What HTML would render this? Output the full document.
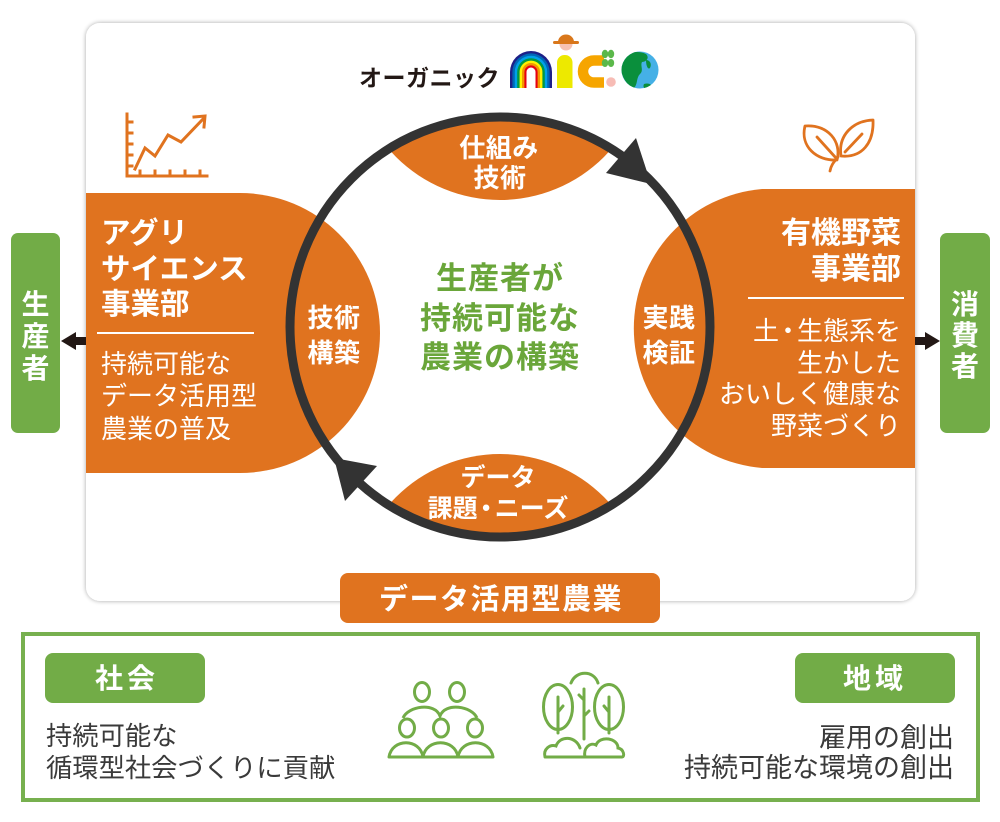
<!DOCTYPE html>
<html><head><meta charset="utf-8">
<style>
html,body{margin:0;padding:0;background:#fff;}
svg{display:block;}
text{font-family:"Liberation Sans","Noto Sans CJK JP",sans-serif;}
.b{font-weight:700;}
</style></head>
<body>
<svg width="1000" height="822" viewBox="0 0 1000 822" xmlns="http://www.w3.org/2000/svg">
<defs>
  <filter id="sh" x="-5%" y="-5%" width="110%" height="110%">
    <feGaussianBlur in="SourceAlpha" stdDeviation="2.5"/>
    <feOffset dx="0" dy="0" result="b"/>
    <feComponentTransfer><feFuncA type="linear" slope="0.35"/></feComponentTransfer>
    <feMerge><feMergeNode/><feMergeNode in="SourceGraphic"/></feMerge>
  </filter>
  <clipPath id="ring"><circle cx="500" cy="327" r="210"/></clipPath>
  <clipPath id="globe"><circle cx="640" cy="70" r="18.5"/></clipPath>
</defs>

<!-- main card -->
<rect x="86" y="23" width="829" height="578" rx="14" fill="#fff" filter="url(#sh)"/>

<!-- logo -->
<text x="359" y="86" class="b" font-size="23" fill="#231815" letter-spacing="0.5">オーガニック</text>
<g>
  <path d="M510,88 V72 A21,21 0 0 1 552,72 V88 Z" fill="#1d2088"/>
  <path d="M512.4,88 V72 A18.6,18.6 0 0 1 549.6,72 V88 Z" fill="#0068b7"/>
  <path d="M514.8,88 V72 A16.2,16.2 0 0 1 547.2,72 V88 Z" fill="#00a0e9"/>
  <path d="M517.2,88 V72 A13.8,13.8 0 0 1 544.8,72 V88 Z" fill="#009944"/>
  <path d="M519.6,88 V72 A11.4,11.4 0 0 1 542.4,72 V88 Z" fill="#fff100"/>
  <path d="M522,88 V72 A9,9 0 0 1 540,72 V88 Z" fill="#f39800"/>
  <path d="M524.4,88 V72 A6.6,6.6 0 0 1 537.6,72 V88 Z" fill="#e60012"/>
  <path d="M526.5,88 V72 A4.5,4.5 0 0 1 535.5,72 V88 Z" fill="#fff"/>
  <!-- i -->
  <rect x="557" y="55" width="15.5" height="33" rx="7.5" fill="#ede900"/>
  <rect x="557" y="70" width="15.5" height="18" fill="#ede900"/>
  <circle cx="566" cy="44" r="6.5" fill="#f7c1b2"/>
  <path d="M558,42 A8,7.5 0 0 1 574,42 Z" fill="#d9771b"/>
  <rect x="553" y="41" width="26" height="3" rx="1.5" fill="#d9771b"/>
  <!-- c -->
  <path d="M604,60.5 H594 A11,11 0 0 0 594,82.5 H604" fill="none" stroke="#f6a500" stroke-width="10.5"/>
  <ellipse cx="605" cy="54" rx="3.2" ry="4.2" fill="#5bb84a"/>
  <ellipse cx="611" cy="54" rx="3.2" ry="4.2" fill="#5bb84a"/>
  <ellipse cx="605" cy="63" rx="3.2" ry="4" fill="#5bb84a"/>
  <ellipse cx="611" cy="63" rx="3.2" ry="4" fill="#5bb84a"/>
  <circle cx="611" cy="82" r="4.8" fill="#f7bcb5"/>
  <!-- globe -->
  <circle cx="640" cy="70" r="18.5" fill="#45b0e6"/>
  <g clip-path="url(#globe)" fill="#0a8f3c">
    <path d="M620,60 C626,52 638,50 646,54 C650,58 646,62 642,62 C640,66 644,70 640,74 C636,78 638,84 634,88 C628,86 624,80 622,74 C620,70 618,64 620,60 Z"/>
    <path d="M646,60 C650,60 652,64 650,68 C648,70 646,66 646,60 Z"/>
    <path d="M644,84 C650,82 654,86 650,90 C646,90 642,88 644,84 Z"/>
  </g>
</g>

<!-- chart icon -->
<g fill="none" stroke="#e0731f" stroke-width="3" stroke-linecap="square">
  <path d="M127,114 V176 H207"/>
  <path d="M127,122 H132 M127,133 H132 M127,144 H132 M127,155 H132 M127,166 H132"/>
  <path d="M140,176 V171 M155,176 V171 M170,176 V171 M185,176 V171 M200,176 V171"/>
  <path d="M135,169 L145,148 L155,156 L168,135 L181,142 L204,118" stroke-linejoin="miter"/>
  <path d="M194,117 L205,116 L204,127"/>
</g>

<!-- leaf icon -->
<g fill="none" stroke="#e0731f" stroke-width="2.8" stroke-linejoin="round" stroke-linecap="round">
  <path d="M805,126 C828,124 842,142 837,160 C816,161 800,146 805,126 Z"/>
  <path d="M817,137 L836,158"/>
  <path d="M873,120 C874,143 862,158 841,156 C838,136 852,121 873,120 Z"/>
  <path d="M845,152 L862,134"/>
  <path d="M838,157 C834,162 831,165 830,171"/>
</g>

<!-- orange side shapes -->
<path d="M86,193 H240 A140,140 0 0 1 240,473 H86 Z" fill="#e0731f"/>
<path d="M915,189 H762 A140,140 0 0 0 762,468 H915 Z" fill="#e0731f"/>

<!-- lenses -->
<g clip-path="url(#ring)" fill="#e0731f">
  <circle cx="500" cy="53" r="147"/>
  <circle cx="500" cy="601" r="147"/>
</g>

<!-- ring -->
<circle cx="500" cy="327" r="210" fill="none" stroke="#333333" stroke-width="9"/>
<polygon points="636,138 606,173 651,184" fill="#333333"/>
<polygon points="334,458 377,466 345,501" fill="#333333"/>

<!-- side arrows -->
<rect x="74" y="337" width="12" height="8" fill="#231815"/>
<polygon points="61,341 76,332 76,350" fill="#231815"/>
<rect x="915" y="337" width="12" height="8" fill="#231815"/>
<polygon points="940,341 925,332 925,350" fill="#231815"/>

<!-- green side boxes -->
<rect x="11" y="233" width="49" height="200" rx="7" fill="#72ac47"/>
<g class="b" font-size="28" fill="#fff" text-anchor="middle">
  <text x="35.5" y="314">生</text>
  <text x="35.5" y="346">産</text>
  <text x="35.5" y="378">者</text>
</g>
<rect x="940" y="233" width="50" height="200" rx="7" fill="#72ac47"/>
<g class="b" font-size="28" fill="#fff" text-anchor="middle">
  <text x="965" y="314">消</text>
  <text x="965" y="345">費</text>
  <text x="965" y="376">者</text>
</g>

<!-- left block text -->
<g fill="#fff">
  <text x="101" y="243" class="b" font-size="29.5">アグリ</text>
  <text x="101" y="279" class="b" font-size="29.5">サイエンス</text>
  <text x="101" y="314" class="b" font-size="29.5">事業部</text>
  <rect x="97" y="332" width="157" height="2" fill="#fff"/>
  <text x="101" y="373" font-size="26">持続可能な</text>
  <text x="101" y="405" font-size="26">データ活用型</text>
  <text x="101" y="438" font-size="26">農業の普及</text>
</g>

<!-- right block text -->
<g fill="#fff" text-anchor="end">
  <text x="901" y="243" class="b" font-size="30">有機野菜</text>
  <text x="901" y="279" class="b" font-size="30">事業部</text>
  <rect x="748" y="297" width="156" height="2" fill="#fff"/>
  <text x="901" y="340" font-size="26">土<tspan dx="-4">・</tspan><tspan dx="-4">生態系を</tspan></text>
  <text x="901" y="372" font-size="26">生かした</text>
  <text x="901" y="403" font-size="26">おいしく健康な</text>
  <text x="901" y="435" font-size="26">野菜づくり</text>
</g>

<!-- circle labels -->
<g class="b" fill="#fff" text-anchor="middle">
  <text x="499" y="157" font-size="26" letter-spacing="0.5">仕組み</text>
  <text x="500" y="187" font-size="26" letter-spacing="0.5">技術</text>
  <text x="334" y="327" font-size="26" letter-spacing="0.5">技術</text>
  <text x="334" y="362" font-size="26" letter-spacing="0.5">構築</text>
  <text x="669" y="327" font-size="26" letter-spacing="0.5">実践</text>
  <text x="669" y="362" font-size="26" letter-spacing="0.5">検証</text>
  <text x="498" y="486" font-size="25">データ</text>
  <text x="498" y="517" font-size="25">課題<tspan dx="-4">・</tspan><tspan dx="-4">ニーズ</tspan></text>
</g>

<!-- center text -->
<g class="b" fill="#6aa63a" text-anchor="middle" font-size="31">
  <text x="500" y="289" letter-spacing="1">生産者が</text>
  <text x="500" y="329" letter-spacing="1">持続可能な</text>
  <text x="500" y="368" letter-spacing="1">農業の構築</text>
</g>

<!-- bottom orange label -->
<rect x="340" y="573" width="320" height="50" rx="8" fill="#e0731f"/>
<text x="501" y="609" class="b" font-size="29" fill="#fff" text-anchor="middle" letter-spacing="1.5">データ活用型農業</text>

<!-- bottom green box -->
<rect x="23" y="634" width="955" height="166" fill="none" stroke="#77b04f" stroke-width="4"/>
<rect x="45" y="653" width="160" height="50" rx="8" fill="#72ac47"/>
<text x="95" y="688" class="b" font-size="28" fill="#fff" letter-spacing="4">社会</text>
<rect x="795" y="653" width="160" height="50" rx="8" fill="#72ac47"/>
<text x="843" y="688" class="b" font-size="28" fill="#fff" letter-spacing="4">地域</text>

<g fill="#3a3a3a">
  <text x="46" y="745" font-size="26.3">持続可能な</text>
  <text x="46" y="777" font-size="26.3">循環型社会づくりに貢献</text>
  <text x="954" y="747" font-size="27" text-anchor="end">雇用の創出</text>
  <text x="954" y="777" font-size="27" text-anchor="end">持続可能な環境の創出</text>
</g>

<!-- people icon -->
<g fill="none" stroke="#72ac47" stroke-width="3">
  <ellipse cx="422" cy="692" rx="7.5" ry="9.5"/>
  <ellipse cx="457" cy="692" rx="7.5" ry="9.5"/>
  <path d="M403,718 C408,706 435,702 440,716 C445,702 472,706 477,718"/>
  <ellipse cx="407" cy="728" rx="7.5" ry="9"/>
  <ellipse cx="441" cy="728" rx="7.5" ry="9"/>
  <ellipse cx="475" cy="728" rx="7.5" ry="9"/>
  <path d="M389,757 C392,738 420,738 423,757 C426,738 455,738 458,757 C461,738 490,738 493,757 Z" stroke-linejoin="round"/>
</g>

<!-- trees icon -->
<g fill="none" stroke="#72ac47" stroke-width="3" stroke-linecap="round">
  <path d="M571,683 C576,670 594,670 598,683"/>
  <ellipse cx="558" cy="707" rx="14.5" ry="22.5"/>
  <ellipse cx="609" cy="707" rx="14.5" ry="22.5"/>
  <path d="M558,697 V733 M558,712 L563,706"/>
  <path d="M609,697 V733 M609,712 L604,706"/>
  <path d="M584,689 V739 M584,700 L579,695 M584,716 L589,711"/>
  <path d="M545,757 C543,749 550,744 556,746 C560,735 576,736 580,748 M585,757 C583,748 590,742 596,745 C600,735 618,738 618,748 C624,749 625,757 622,757 H546"/>
</g>
</svg>
</body></html>
